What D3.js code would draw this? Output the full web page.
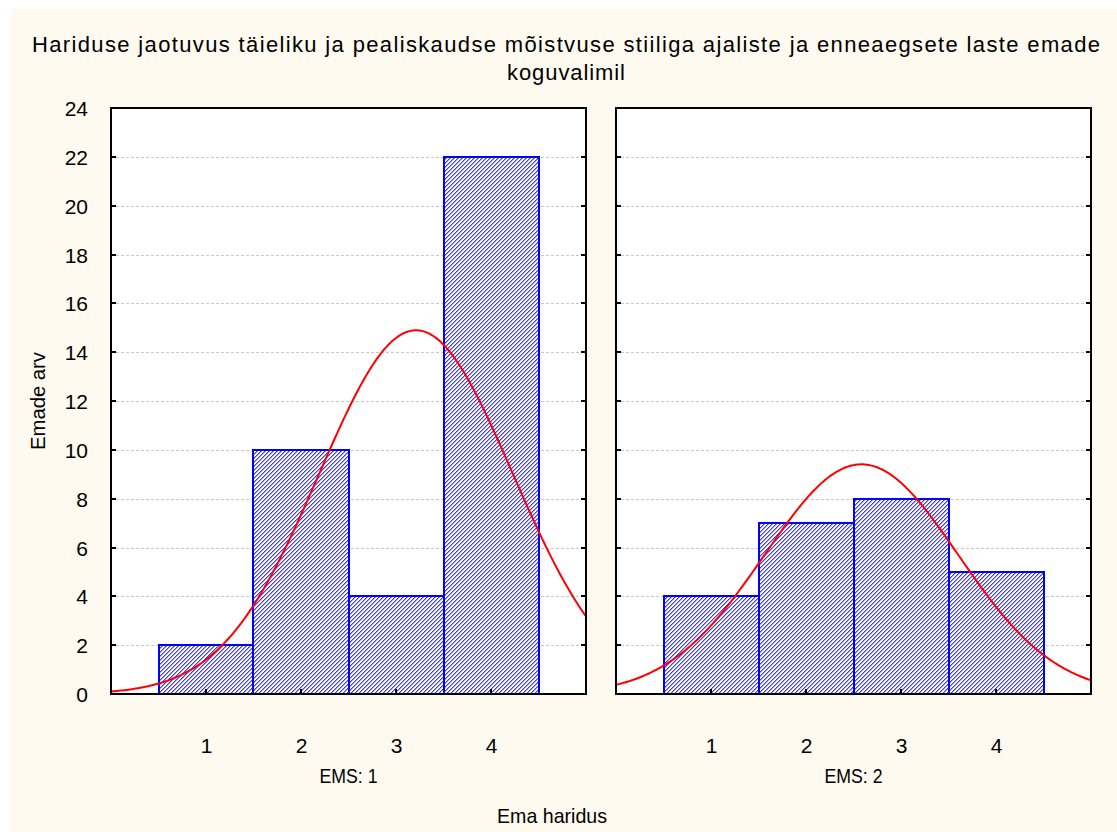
<!DOCTYPE html>
<html><head><meta charset="utf-8">
<script src="https://cdn.jsdelivr.net/npm/d3@7"></script>
<style>body{margin:0;background:#fff}svg{display:block}text{font-family:"Liberation Sans",Arial,sans-serif;fill:#000}</style>
</head><body><svg id="c" width="1117" height="832"></svg>
<script>
const titleLines = ["Hariduse jaotuvus täieliku ja pealiskaudse mõistvuse stiiliga ajaliste ja enneaegsete laste emade", "koguvalimil"];
const categories = [1, 2, 3, 4];
const panelLabels = ["EMS: 1", "EMS: 2"];
const countsEMS1 = [2, 10, 4, 22];
const countsEMS2 = [4, 7, 8, 5];
const yTicks = [0, 2, 4, 6, 8, 10, 12, 14, 16, 18, 20, 22, 24];
const xTicks = [1, 2, 3, 4];
const yLabel = "Emade arv";
const xLabel = "Ema haridus";

(function () {
const FS = 21;
const svg = d3.select("#c");
svg.append("rect").attr("x", 11).attr("y", 9).attr("width", 1106).attr("height", 823).attr("fill", "#fefaef");

const defs = svg.append("defs");
const pat = defs.append("pattern").attr("id", "hatch").attr("patternUnits", "userSpaceOnUse")
  .attr("width", 4).attr("height", 4);
pat.append("rect").attr("width", 4).attr("height", 4).attr("fill", "#ffffff");
[[0,3],[1,2],[2,1],[3,0]].forEach(([x,y]) => {
  pat.append("rect").attr("x", x).attr("y", y).attr("width", 1).attr("height", 1).attr("fill", "#3a3aff").attr("shape-rendering", "crispEdges");
  pat.append("rect").attr("x", (x+1)%4).attr("y", y).attr("width", 1).attr("height", 1).attr("fill", "#9a9aff").attr("shape-rendering", "crispEdges");
});

const pTop = 108, pBottom = 694;
const y = d3.scaleLinear().domain([0, 24]).range([pBottom, pTop]);
const panels = [
  {left: 111, right: 586, counts: countsEMS1, label: panelLabels[0]},
  {left: 616, right: 1091, counts: countsEMS2, label: panelLabels[1]}
];

function normalStats(counts) {
  const n = d3.sum(counts);
  const mean = d3.sum(counts, (c, i) => c * categories[i]) / n;
  const v = d3.sum(counts, (c, i) => c * (categories[i] - mean) ** 2) / (n - 1);
  return {n, mean, sd: Math.sqrt(v)};
}

panels.forEach((p, pi) => {
  const x = d3.scaleLinear().domain([0, 5]).range([p.left, p.right]);
  const g = svg.append("g");
  const clipId = "clip" + pi;
  defs.append("clipPath").attr("id", clipId).append("rect")
    .attr("x", p.left).attr("y", pTop).attr("width", p.right - p.left).attr("height", pBottom - pTop);
  g.append("rect").attr("x", p.left).attr("y", pTop).attr("width", p.right - p.left).attr("height", pBottom - pTop).attr("fill", "#fff");
  g.selectAll("line.grid").data(yTicks.slice(1, -1)).join("line")
    .attr("x1", p.left).attr("x2", p.right)
    .attr("y1", d => Math.round(y(d)) + 0.5).attr("y2", d => Math.round(y(d)) + 0.5)
    .attr("stroke", "#c8c8c8").attr("stroke-dasharray", "3,2");
  g.selectAll("rect.bar").data(p.counts).join("rect")
    .attr("x", (d, i) => Math.round(x(categories[i] - 0.5))).attr("width", (d, i) => Math.round(x(categories[i] + 0.5)) - Math.round(x(categories[i] - 0.5)))
    .attr("y", d => Math.round(y(d))).attr("height", d => Math.round(y(0)) - Math.round(y(d)))
    .attr("fill", "url(#hatch)").attr("stroke", "#0000ff").attr("stroke-width", 2);
  const s = normalStats(p.counts);
  const xs = d3.range(0, 5.001, 0.02);
  const pdf = t => s.n / (s.sd * Math.sqrt(2 * Math.PI)) * Math.exp(-0.5 * ((t - s.mean) / s.sd) ** 2);
  g.append("path").datum(xs).attr("clip-path", `url(#${clipId})`).attr("fill", "none").attr("stroke", "#ff0000").attr("stroke-width", 2)
    .attr("d", d3.line().x(t => x(t)).y(t => y(pdf(t))));
  g.append("rect").attr("x", p.left).attr("y", pTop).attr("width", p.right - p.left).attr("height", pBottom - pTop)
    .attr("fill", "none").attr("stroke", "#000").attr("stroke-width", 2);
  yTicks.forEach(t => {
    const yy = Math.round(y(t));
    g.append("line").attr("x1", p.left).attr("x2", p.left + 5).attr("y1", yy).attr("y2", yy).attr("stroke", "#000").attr("stroke-width", 2);
    g.append("line").attr("x1", p.right - 5).attr("x2", p.right).attr("y1", yy).attr("y2", yy).attr("stroke", "#000").attr("stroke-width", 2);
  });
  const xa = d3.axisBottom(x).tickValues(xTicks).tickSize(0).tickPadding(0).tickFormat(d3.format("d"));
  const gx = g.append("g").attr("transform", `translate(0,${pBottom})`).call(xa);
  gx.select(".domain").remove();
  gx.selectAll("text").attr("y", 59).attr("dy", 0).attr("font-size", FS).attr("font-family", '"Liberation Sans",Arial,sans-serif');
  xTicks.forEach(t => {
    g.append("line").attr("x1", x(t)).attr("x2", x(t)).attr("y1", pBottom).attr("y2", pBottom - 5).attr("stroke", "#000").attr("stroke-width", 2);
  });
  g.append("text").attr("x", (p.left + p.right) / 2).attr("y", 783).attr("text-anchor", "middle").attr("font-size", FS)
    .attr("textLength", 58).attr("lengthAdjust", "spacingAndGlyphs").text(p.label);
  if (pi === 0) {
    const ya = d3.axisLeft(y).tickValues(yTicks).tickSize(0).tickPadding(0);
    const gy = svg.append("g").attr("transform", `translate(${p.left - 23},0)`).call(ya);
    gy.select(".domain").remove();
    gy.selectAll("text").attr("dy", "0.36em").attr("font-size", FS).attr("font-family", '"Liberation Sans",Arial,sans-serif');
  }
});

svg.append("text").attr("transform", "translate(45,401) rotate(-90)").attr("text-anchor", "middle").attr("font-size", FS)
  .attr("textLength", 98).attr("lengthAdjust", "spacingAndGlyphs").text(yLabel);
svg.append("text").attr("x", 552).attr("y", 823).attr("text-anchor", "middle").attr("font-size", FS)
  .attr("textLength", 110).attr("lengthAdjust", "spacingAndGlyphs").text(xLabel);
titleLines.forEach((l, i) => {
  const t = svg.append("text").attr("x", 566).attr("y", 52 + i * 28).attr("text-anchor", "middle").attr("font-size", 22).text(l);
  t.attr("textLength", i === 0 ? 1068 : 118).attr("lengthAdjust", "spacing");
});
})();
</script></body></html>
